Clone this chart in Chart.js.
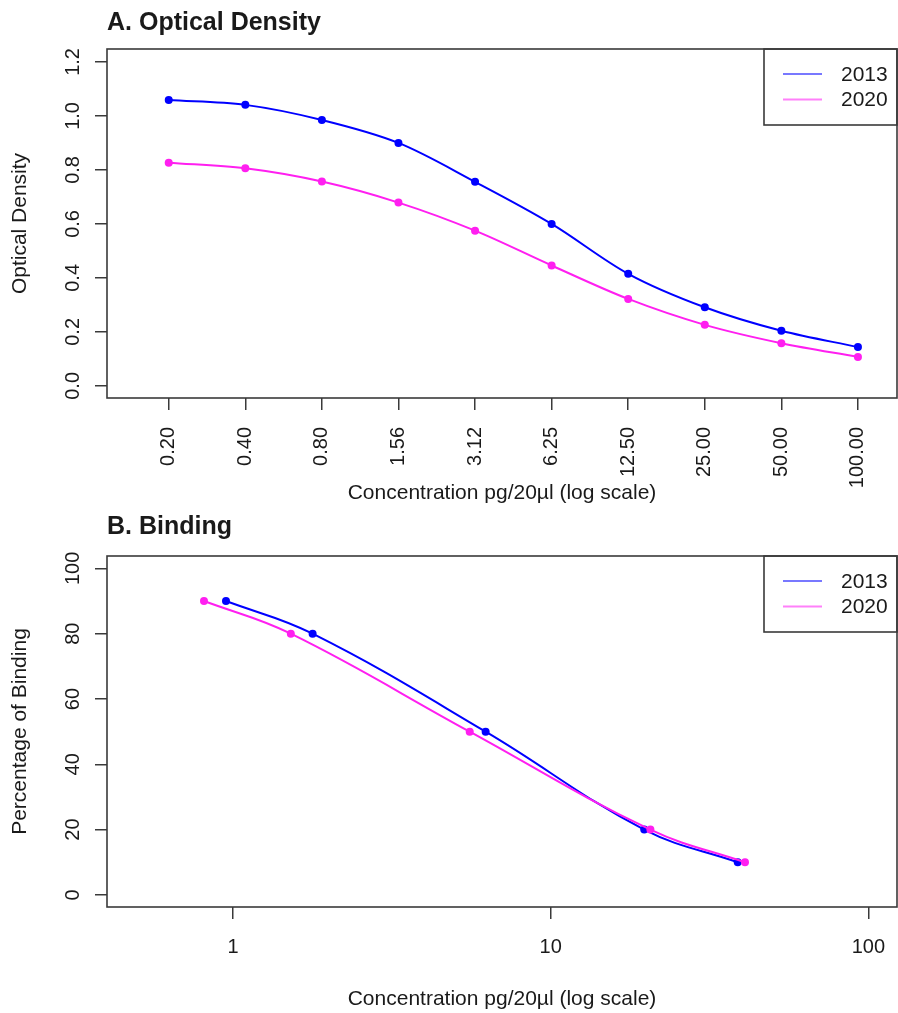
<!DOCTYPE html>
<html lang="en">
<head>
    <meta charset="UTF-8">
    <title>Optical Density and Binding</title>
    <script src="https://cdn.jsdelivr.net/npm/chart.js"></script>
    <style>
        body {
            margin: 0;
            background: #fff;
        }
        canvas {
            display: block;
        }
    </style>
</head>
<body>
    <canvas id="odChart" width="898" height="510"></canvas>
    <canvas id="bindChart" width="898" height="503"></canvas>

    <script>
        // Series names
        const years = ['2013', '2020'];

        // A. Optical density per dilution step
        const odConc = ['0.20', '0.40', '0.80', '1.56', '3.12', '6.25', '12.50', '25.00', '50.00', '100.00'];
        const od2013 = [1.059, 1.041, 0.985, 0.900, 0.756, 0.600, 0.415, 0.291, 0.204, 0.144];
        const od2020 = [0.827, 0.806, 0.757, 0.679, 0.575, 0.446, 0.322, 0.226, 0.158, 0.107];
        const odTicks = [0, 0.2, 0.4, 0.6, 0.8, 1.0, 1.2];
        const odTickLabels = ['0.0', '0.2', '0.4', '0.6', '0.8', '1.0', '1.2'];

        // B. Concentration giving each percentage of binding
        const bindPct = [90, 80, 50, 20, 10];
        const bindConc2013 = [0.95, 1.78, 6.24, 19.7, 38.8];
        const bindConc2020 = [0.81, 1.52, 5.56, 20.6, 40.9];
        const bindTicks = [0, 20, 40, 60, 80, 100];
        const concTicks = [1, 10, 100];
        const concTickLabels = ['1', '10', '100'];

        const FONT = "'Liberation Sans', Arial, Helvetica, sans-serif";
        const INK = '#1a1a1a';
        const FRAME = '#3a3a3a';
        const BLUE = '#0000ff';
        const PINK = '#ff1ff0';
        const LEGEND_COLORS = ['#7878ff', '#ff80fa'];

        // Box around the plot, bold title, rotated y labels and the legend box
        const rFrame = {
            id: 'rFrame',
            afterDraw(chart, args, opts) {
                const {ctx, chartArea: a} = chart;
                ctx.save();

                ctx.strokeStyle = FRAME;
                ctx.lineWidth = 1.6;
                ctx.strokeRect(a.left, a.top, a.right - a.left, a.bottom - a.top);

                ctx.fillStyle = INK;
                ctx.font = 'bold 25px ' + FONT;
                ctx.textAlign = 'left';
                ctx.textBaseline = 'alphabetic';
                ctx.fillText(opts.title, a.left, opts.titleY);

                // y tick labels run along the axis
                const ys = chart.scales.y;
                ctx.font = '20px ' + FONT;
                ctx.textAlign = 'center';
                ys.ticks.forEach(t => {
                    ctx.save();
                    ctx.translate(79, ys.getPixelForValue(t.value));
                    ctx.rotate(-Math.PI / 2);
                    ctx.fillText(t.label, 0, 0);
                    ctx.restore();
                });

                // legend in the top right corner
                const bx = a.right - 133, by = a.top;
                ctx.strokeStyle = FRAME;
                ctx.lineWidth = 1.6;
                ctx.strokeRect(bx, by, 133, 76);
                ctx.font = '21px ' + FONT;
                ctx.textAlign = 'left';
                ctx.textBaseline = 'middle';
                chart.data.datasets.forEach((ds, i) => {
                    const ly = by + 25 + i * 25.5;
                    ctx.strokeStyle = LEGEND_COLORS[i];
                    ctx.lineWidth = 2;
                    ctx.beginPath();
                    ctx.moveTo(bx + 19, ly);
                    ctx.lineTo(bx + 58, ly);
                    ctx.stroke();
                    ctx.fillStyle = INK;
                    ctx.fillText(ds.label, bx + 77, ly + 1);
                });
                ctx.restore();
            }
        };

        function series(label, color, points, order) {
            return {
                label: label,
                data: points,
                borderColor: color,
                backgroundColor: color,
                borderWidth: 2,
                pointRadius: 4,
                pointBorderWidth: 0,
                pointBackgroundColor: color,
                order: order
            };
        }

        const tickGrid = {
            drawOnChartArea: false,
            drawTicks: true,
            tickLength: 12,
            color: FRAME,
            lineWidth: 1.5
        };

        // fixed box height, and no extra side room for the end labels
        function fixHeight(h) {
            return s => {
                s.height = h;
                s.paddingLeft = 0;
                s.paddingRight = 0;
            };
        }

        function yAxis(min, max, values, fmt, title) {
            return {
                type: 'linear',
                min: min,
                max: max,
                afterBuildTicks: s => { s.ticks = values.map(v => ({value: v})); },
                afterFit: s => { s.width = 107; },
                ticks: {display: false, callback: fmt},
                grid: tickGrid,
                border: {display: false},
                title: {
                    display: true,
                    text: title,
                    color: INK,
                    font: {family: FONT, size: 21},
                    padding: {top: 8, bottom: 0}
                }
            };
        }

        function xTitle() {
            return {
                display: true,
                text: 'Concentration pg/20µl (log scale)',
                color: INK,
                font: {family: FONT, size: 21},
                padding: {top: 0, bottom: 0}
            };
        }

        Chart.defaults.animation = false;
        Chart.defaults.responsive = false;
        Chart.defaults.font.family = FONT;

        // A. Optical Density
        new Chart(document.getElementById('odChart'), {
            type: 'line',
            data: {
                datasets: [
                    series(years[0], BLUE, od2013.map((v, i) => ({x: i, y: v})), 1),
                    series(years[1], PINK, od2020.map((v, i) => ({x: i, y: v})), 0)
                ]
            },
            options: {
                layout: {autoPadding: false, padding: {top: 49, right: 1, bottom: 4, left: 0}},
                elements: {line: {cubicInterpolationMode: 'monotone'}},
                plugins: {
                    legend: {display: false},
                    tooltip: {enabled: false},
                    rFrame: {title: 'A. Optical Density', titleY: 29.5}
                },
                scales: {
                    x: {
                        type: 'linear',
                        min: -0.806,
                        max: 9.51,
                        afterBuildTicks: s => { s.ticks = odConc.map((c, i) => ({value: i})); },
                        afterFit: fixHeight(108),
                        ticks: {
                            autoSkip: false,
                            minRotation: 90,
                            maxRotation: 90,
                            padding: 17,
                            color: INK,
                            font: {size: 20},
                            callback: (v, i) => odConc[i]
                        },
                        grid: tickGrid,
                        border: {display: false},
                        title: xTitle()
                    },
                    y: yAxis(-0.045, 1.248, odTicks, (v, i) => odTickLabels[i], 'Optical Density')
                }
            },
            plugins: [rFrame]
        });

        // B. Binding
        new Chart(document.getElementById('bindChart'), {
            type: 'line',
            data: {
                datasets: [
                    series(years[0], BLUE, bindConc2013.map((c, i) => ({x: c, y: bindPct[i]})), 1),
                    series(years[1], PINK, bindConc2020.map((c, i) => ({x: c, y: bindPct[i]})), 0)
                ]
            },
            options: {
                layout: {autoPadding: false, padding: {top: 46, right: 1, bottom: 1, left: 0}},
                elements: {line: {tension: 0.4}},
                plugins: {
                    legend: {display: false},
                    tooltip: {enabled: false},
                    rFrame: {title: 'B. Binding', titleY: 24}
                },
                scales: {
                    x: {
                        type: 'logarithmic',
                        min: 0.401,
                        max: 123.1,
                        afterBuildTicks: s => { s.ticks = concTicks.map(v => ({value: v})); },
                        afterFit: fixHeight(105),
                        ticks: {
                            autoSkip: false,
                            maxRotation: 0,
                            padding: 16,
                            color: INK,
                            font: {size: 20},
                            callback: (v, i) => concTickLabels[i]
                        },
                        grid: tickGrid,
                        border: {display: false},
                        title: xTitle()
                    },
                    y: yAxis(-3.7, 103.8, bindTicks, v => String(v), 'Percentage of Binding')
                }
            },
            plugins: [rFrame]
        });
    </script>
</body>
</html>
